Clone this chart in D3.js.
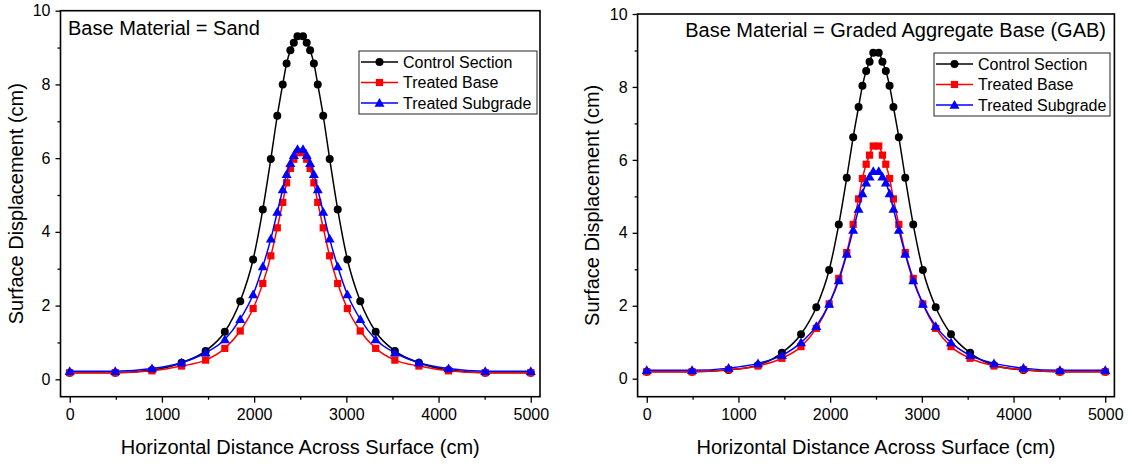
<!DOCTYPE html>
<html>
<head>
<meta charset="utf-8">
<script src="https://cdn.jsdelivr.net/npm/d3@7"></script>
<style>
  html, body { margin: 0; padding: 0; background: #fff; }
  svg { display: block; font-family: "Liberation Sans", Arial, sans-serif; }
</style>
</head>
<body>
<svg id="chart" width="1128" height="465"></svg>
<script>
// ---------- data ----------
const xDistance = [0, 494, 892, 1213, 1474, 1682, 1849, 1989, 2094, 2181, 2251, 2310, 2352, 2393, 2430, 2470,
                   2530, 2570, 2607, 2648, 2690, 2749, 2819, 2906, 3011, 3151, 3318, 3526, 3787, 4108, 4506, 5000];

const sandControl = [0.18, 0.18, 0.25, 0.45, 0.77, 1.29, 2.12, 3.25, 4.61, 5.98, 7.15, 8.00, 8.57, 8.93, 9.13, 9.31,
                     9.31, 9.13, 8.93, 8.57, 8.00, 7.15, 5.98, 4.61, 3.25, 2.12, 1.29, 0.77, 0.45, 0.25, 0.18, 0.18];
const sandTreatedBase = [0.18, 0.18, 0.23, 0.36, 0.52, 0.84, 1.31, 1.92, 2.60, 3.35, 4.11, 4.80, 5.33, 5.72, 5.97, 6.15,
                         6.15, 5.97, 5.72, 5.33, 4.80, 4.11, 3.35, 2.60, 1.92, 1.31, 0.84, 0.52, 0.36, 0.23, 0.18, 0.18];
const sandTreatedSubgrade = [0.22, 0.22, 0.29, 0.45, 0.72, 1.08, 1.63, 2.30, 3.06, 3.81, 4.54, 5.15, 5.56, 5.86, 6.08, 6.24,
                             6.24, 6.08, 5.86, 5.56, 5.15, 4.54, 3.81, 3.06, 2.30, 1.63, 1.08, 0.72, 0.45, 0.29, 0.22, 0.22];

const gabControl = [0.19, 0.19, 0.24, 0.37, 0.71, 1.22, 1.96, 2.98, 4.23, 5.51, 6.62, 7.45, 8.03, 8.44, 8.69, 8.94,
                    8.94, 8.69, 8.44, 8.03, 7.45, 6.62, 5.51, 4.23, 2.98, 1.96, 1.22, 0.71, 0.37, 0.24, 0.19, 0.19];
const gabTreatedBase = [0.19, 0.19, 0.25, 0.35, 0.56, 0.88, 1.38, 2.05, 2.75, 3.46, 4.23, 4.93, 5.49, 5.88, 6.13, 6.38,
                        6.38, 6.13, 5.88, 5.49, 4.93, 4.23, 3.46, 2.75, 2.05, 1.38, 0.88, 0.56, 0.35, 0.25, 0.19, 0.19];
const gabTreatedSubgrade = [0.23, 0.23, 0.29, 0.42, 0.64, 0.99, 1.44, 2.05, 2.69, 3.42, 4.08, 4.65, 5.08, 5.37, 5.54, 5.69,
                            5.69, 5.54, 5.37, 5.08, 4.65, 4.08, 3.42, 2.69, 2.05, 1.44, 0.99, 0.64, 0.42, 0.29, 0.23, 0.23];

const seriesNames = ["Control Section", "Treated Base", "Treated Subgrade"];
const panelTitles = ["Base Material = Sand", "Base Material = Graded Aggregate Base (GAB)"];
const xTickValues = [0, 1000, 2000, 3000, 4000, 5000];
const xMinorTickValues = [500, 1500, 2500, 3500, 4500];
const yTickValues = [0, 2, 4, 6, 8, 10];
const yMinorTickValues = [1, 3, 5, 7, 9];
const xTitle = "Horizontal Distance Across Surface (cm)";
const yTitle = "Surface Displacement (cm)";

// ---------- layout / style ----------
const seriesStyle = [
  { color: "#000000", marker: "circle" },
  { color: "#ff0000", marker: "square" },
  { color: "#0000ff", marker: "triangle" }
];

const panels = [
  { data: [sandControl, sandTreatedBase, sandTreatedSubgrade], title: panelTitles[0],
    left: 60.5, right: 540, top: 10.7, bottom: 396.7, yZero: 379.3, yTitleX: 16,
    titleX: 68, titleY: 35, titleAnchor: "start",
    legend: { x: 359, y: 51, w: 178, h: 63 } },
  { data: [gabControl, gabTreatedBase, gabTreatedSubgrade], title: panelTitles[1],
    left: 637.6, right: 1114.4, top: 14, bottom: 396.7, yZero: 378.7, yTitleX: 592,
    titleX: 1106, titleY: 37, titleAnchor: "end",
    legend: { x: 934, y: 53, w: 176, h: 63 } }
];

const svg = d3.select("#chart");

function drawMarker(g, type, color, x, y) {
  if (type === "circle") {
    g.append("circle").attr("cx", x).attr("cy", y).attr("r", 4).attr("fill", color);
  } else if (type === "square") {
    g.append("rect").attr("x", x - 3.6).attr("y", y - 3.6).attr("width", 7.2).attr("height", 7.2).attr("fill", color);
  } else {
    const s = 5;
    g.append("path")
      .attr("d", `M${x},${y - s}L${x + s},${y + s * 0.75}L${x - s},${y + s * 0.75}Z`)
      .attr("fill", color);
  }
}

panels.forEach(p => {
  // x-scale: 0..5000 mapped inside frame with -100..5100 domain
  const x = d3.scaleLinear().domain([-100, 5100]).range([p.left, p.right]);
  // y-scale: top of frame = 10, zero at yZero
  const yMinVal = -10 * (p.bottom - p.yZero) / (p.yZero - p.top);
  const y = d3.scaleLinear().domain([yMinVal, 10]).range([p.bottom, p.top]);

  const g = svg.append("g");

  // axes
  const xAxis = d3.axisBottom(x).tickValues(xTickValues).tickSize(6).tickPadding(6).tickFormat(d3.format("d"));
  const xAxisMinor = d3.axisBottom(x).tickValues(xMinorTickValues).tickSize(3).tickFormat("");
  const yAxis = d3.axisLeft(y).tickValues(yTickValues).tickSize(5).tickPadding(5).tickFormat(d3.format("d"));
  const yAxisMinor = d3.axisLeft(y).tickValues(yMinorTickValues).tickSize(3).tickFormat("");

  const gx = g.append("g").attr("transform", `translate(0,${p.bottom})`).call(xAxis);
  g.append("g").attr("transform", `translate(0,${p.bottom})`).call(xAxisMinor);
  const gy = g.append("g").attr("transform", `translate(${p.left},0)`).call(yAxis);
  g.append("g").attr("transform", `translate(${p.left},0)`).call(yAxisMinor);

  g.selectAll(".domain").remove();
  g.selectAll(".tick line").attr("stroke", "#000").attr("stroke-width", 1.3);
  g.selectAll(".tick text").attr("font-size", 16).attr("fill", "#000")
    .attr("font-family", "'Liberation Sans', Arial, sans-serif");

  // frame
  g.append("rect").attr("x", p.left).attr("y", p.top)
    .attr("width", p.right - p.left).attr("height", p.bottom - p.top)
    .attr("fill", "none").attr("stroke", "#000").attr("stroke-width", 1.6);

  // axis titles
  g.append("text").attr("x", (p.left + p.right) / 2).attr("y", 454)
    .attr("text-anchor", "middle").attr("font-size", 20).attr("fill", "#000").text(xTitle);
  g.append("text")
    .attr("transform", `translate(${p.yTitleX + 7},${(p.top + p.bottom) / 2}) rotate(-90)`)
    .attr("text-anchor", "middle").attr("font-size", 20).attr("fill", "#000").text(yTitle);

  // series
  const line = d3.line().x((d, i) => x(xDistance[i])).y(d => y(d)).curve(d3.curveMonotoneX);
  p.data.forEach((vals, si) => {
    const st = seriesStyle[si];
    const sg = g.append("g");
    sg.append("path").datum(vals).attr("d", line)
      .attr("fill", "none").attr("stroke", st.color).attr("stroke-width", 1.5);
    vals.forEach((v, i) => drawMarker(sg, st.marker, st.color, x(xDistance[i]), y(v)));
  });

  // panel title
  g.append("text").attr("x", p.titleX).attr("y", p.titleY)
    .attr("text-anchor", p.titleAnchor).attr("font-size", 20).attr("fill", "#000").text(p.title);

  // legend
  const L = p.legend;
  const lg = g.append("g");
  lg.append("rect").attr("x", L.x).attr("y", L.y).attr("width", L.w).attr("height", L.h)
    .attr("fill", "#fff").attr("stroke", "#222").attr("stroke-width", 1);
  seriesNames.forEach((name, i) => {
    const cy = L.y + 11 + i * 20.5;
    const st = seriesStyle[i];
    lg.append("line").attr("x1", L.x + 2).attr("x2", L.x + 39).attr("y1", cy).attr("y2", cy)
      .attr("stroke", st.color).attr("stroke-width", 1.5);
    drawMarker(lg, st.marker, st.color, L.x + 20.5, cy);
    lg.append("text").attr("x", L.x + 44).attr("y", cy + 5.5).attr("font-size", 16)
      .attr("fill", "#000").text(name);
  });
});
</script>
</body>
</html>
